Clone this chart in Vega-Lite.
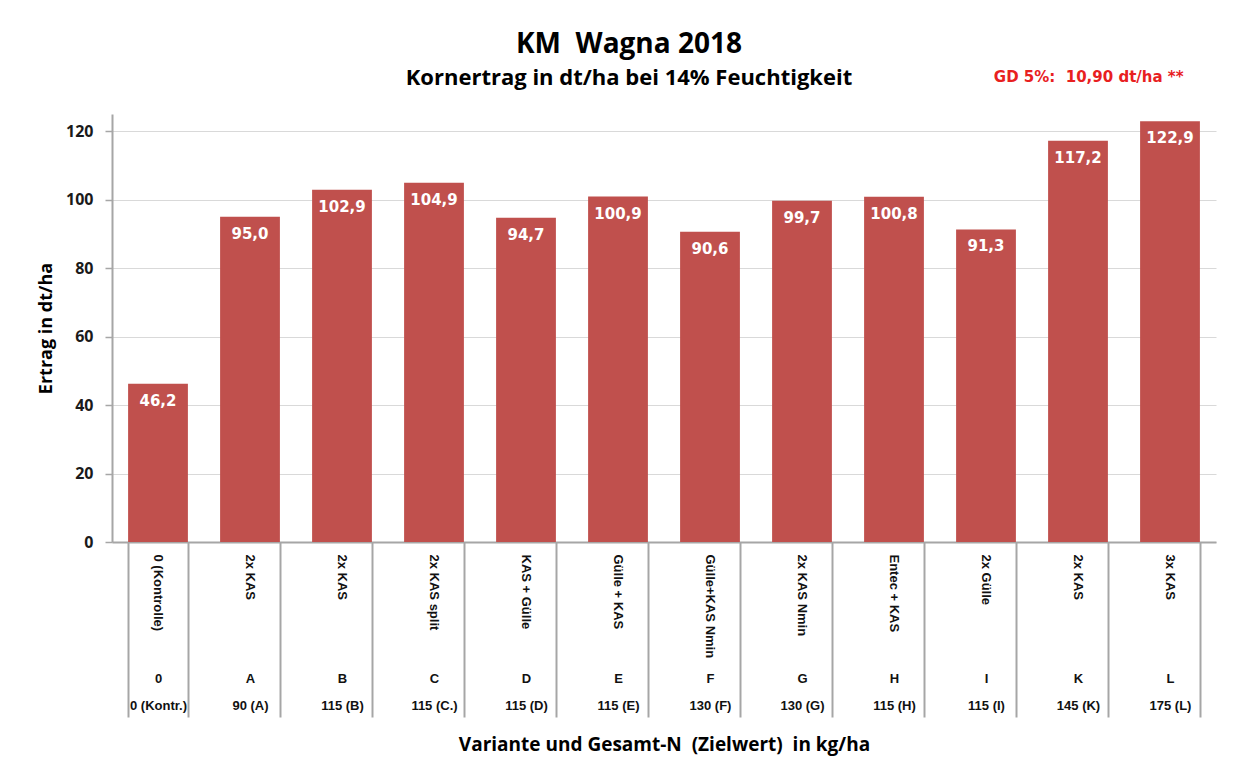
{
  "$schema": "https://vega.github.io/schema/vega-lite/v6.json",
  "width": 1104,
  "height": 428,
  "autosize": {"type": "none"},
  "padding": {"left": 112, "top": 114, "right": 39, "bottom": 225},
  "background": "white",
  "title": {
    "text": "KM\u00a0\u00a0Wagna 2018",
    "subtitle": "Kornertrag in dt/ha bei 14% Feuchtigkeit",
    "anchor": "middle",
    "dx": -35,
    "offset": -20,
    "font": "Open Sans",
    "fontSize": 28,
    "fontWeight": "bold",
    "color": "black",
    "subtitleFont": "Open Sans",
    "subtitleFontSize": 22,
    "subtitleFontWeight": "bold",
    "subtitleColor": "black",
    "subtitlePadding": 9
  },
  "config": {
    "view": {"stroke": null},
    "locale": {"number": {"decimal": ",", "thousands": ".", "grouping": [3], "currency": ["", " €"]}}
  },
  "data": {
    "values": [
      {"achse": "0 (Kontrolle)|0|0 (Kontr.)", "ertrag": 46.2},
      {"achse": "2x KAS|A|90 (A)", "ertrag": 95.0},
      {"achse": "2x KAS|B|115 (B)", "ertrag": 102.9},
      {"achse": "2x KAS split|C|115 (C.)", "ertrag": 104.9},
      {"achse": "KAS + Gülle|D|115 (D)", "ertrag": 94.7},
      {"achse": "Gülle + KAS|E|115 (E)", "ertrag": 100.9},
      {"achse": "Gülle+KAS Nmin|F|130 (F)", "ertrag": 90.6},
      {"achse": "2x KAS Nmin|G|130 (G)", "ertrag": 99.7},
      {"achse": "Entec + KAS|H|115 (H)", "ertrag": 100.8},
      {"achse": "2x Gülle|I|115 (I)", "ertrag": 91.3},
      {"achse": "2x KAS|K|145 (K)", "ertrag": 117.2},
      {"achse": "3x KAS|L|175 (L)", "ertrag": 122.9}
    ]
  },
  "encoding": {
    "y": {
      "field": "ertrag",
      "type": "quantitative",
      "scale": {"domain": [0, 125], "nice": false},
      "axis": {
        "values": [0, 20, 40, 60, 80, 100, 120],
        "title": "Ertrag in dt/ha",
        "titleFont": "Open Sans",
        "titleFontSize": 18,
        "titleFontWeight": "bold",
        "titleColor": "black",
        "titlePadding": 10,
        "labelFont": "Open Sans",
        "labelFontSize": 16,
        "labelFontWeight": "bold",
        "labelColor": "#1a1a1a",
        "labelPadding": 12,
        "tickSize": 7,
        "tickColor": "#a6a6a6",
        "tickWidth": 1.5,
        "domainColor": "#a6a6a6",
        "domainWidth": 2,
        "grid": true,
        "gridColor": "#d9d9d9",
        "gridWidth": 1
      }
    }
  },
  "layer": [
    {
      "mark": {"type": "bar", "color": "#c0504d"},
      "encoding": {
        "x": {
          "field": "achse",
          "type": "nominal",
          "sort": null,
          "scale": {"paddingInner": 0.35, "paddingOuter": 0.175},
          "axis": {
            "orient": "bottom",
            "title": null,
            "labelExpr": "split(datum.value, '|')[0]",
            "labelAngle": 90,
            "labelAlign": "left",
            "labelBaseline": "middle",
            "labelPadding": 12,
            "labelFont": "Liberation Sans",
            "labelFontSize": 13,
            "labelFontWeight": "bold",
            "labelColor": "#111111",
            "ticks": false,
            "tickSize": 0,
            "domain": true,
            "domainColor": "#a6a6a6",
            "domainWidth": 2,
            "grid": false
          }
        }
      }
    },
    {
      "mark": {"type": "text", "baseline": "top", "dy": 10, "color": "white", "font": "DejaVu Sans", "fontSize": 15, "fontWeight": "bold"},
      "encoding": {
        "text": {"field": "ertrag", "type": "quantitative", "format": ".1f"},
        "x": {
          "field": "achse",
          "type": "nominal",
          "sort": null,
          "axis": {
            "orient": "bottom",
            "title": "Variante und Gesamt-N\u00a0\u00a0(Zielwert)\u00a0\u00a0in kg/ha",
            "titleFont": "Open Sans",
            "titleFontSize": 19,
            "titleFontWeight": "bold",
            "titleColor": "black",
            "titlePadding": 17,
            "domain": false,
            "ticks": true,
            "tickSize": 175,
            "tickWidth": 2,
            "tickColor": "#a6a6a6",
            "tickBand": "extent",
            "labelExpr": "[split(datum.value, '|')[1], split(datum.value, '|')[2]]",
            "labelAngle": 0,
            "labelAlign": "center",
            "labelBaseline": "top",
            "labelPadding": -45,
            "labelLineHeight": 27,
            "labelFont": "Liberation Sans",
            "labelFontSize": 13,
            "labelFontWeight": "bold",
            "labelColor": "#111111",
            "grid": false
          }
        }
      }
    },
    {
      "mark": {"type": "bar", "opacity": 0},
      "encoding": {
        "x": {
          "field": "achse",
          "type": "nominal",
          "sort": null,
          "axis": {
            "orient": "top",
            "title": "GD 5%:\u00a0\u00a010,90 dt/ha **",
            "titleColor": "#e8201f",
            "titleFont": "DejaVu Sans",
            "titleFontSize": 15,
            "titleFontWeight": "bold",
            "titleX": 1071,
            "titleY": -38,
            "titleAlign": "right",
            "titleBaseline": "middle",
            "titleAngle": 0,
            "labels": false,
            "ticks": false,
            "domain": false,
            "grid": false
          }
        }
      }
    }
  ],
  "resolve": {"axis": {"x": "independent"}}
}
